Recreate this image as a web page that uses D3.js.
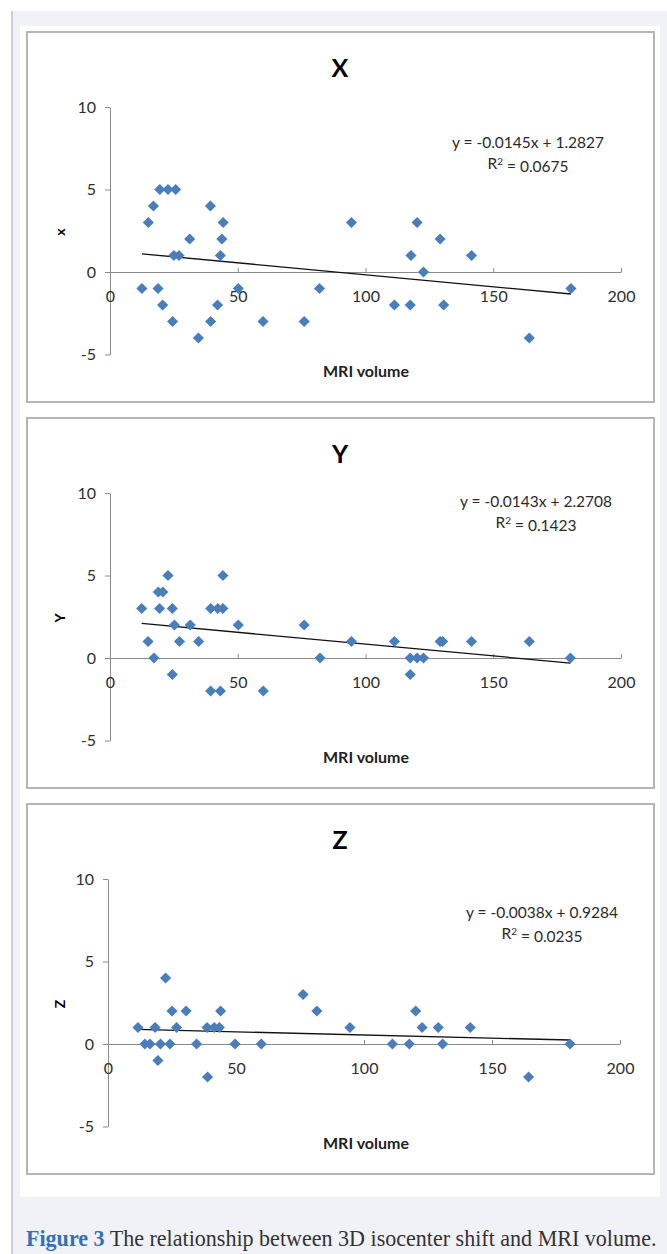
<!DOCTYPE html>
<html>
<head>
<meta charset="utf-8">
<script src="https://cdn.jsdelivr.net/npm/d3@7"></script>
<style>
  body { margin: 0; background: #fff; }
  svg { display: block; }
  text { font-family: Lato, "Open Sans", sans-serif; }
</style>
</head>
<body>
<svg id="figure" width="667" height="1254"></svg>
<script>
// Figure 3: isocenter shift (X, Y, Z) against MRI volume, one scatter per axis

var xVolume = [12.5, 15, 17, 18.8, 19.5, 20.6, 22.7, 24.5, 25.7, 25, 27, 31.2, 34.6, 39.3, 39.4, 42.1, 43.2,
               43.8, 44.3, 50.2, 59.9, 76, 82, 94.5, 111.3, 117.5, 117.8, 120.2, 122.7, 129.2, 130.6, 141.5, 164.1, 180.4];
var xShift  = [-1, 3, 4, -1, 5, -2, 5, -3, 5, 1, 1, 2, -4, 4, -3, -2, 1,
               2, 3, -1, -3, -3, -1, 3, -2, -2, 1, 3, 0, 2, -2, 1, -4, -1];

var yVolume = [12.4, 14.9, 17.2, 18.9, 19.4, 20.7, 22.7, 24.4, 24.4, 25.2, 27.2, 31.4, 34.7, 39.4, 39.4, 42.2, 43.2,
               44.2, 44.2, 50.2, 60, 76, 82.2, 94.5, 111.3, 117.5, 117.5, 120.2, 122.7, 129.2, 130.2, 141.5, 164.1, 180.2];
var yShift  = [3, 1, 0, 4, 3, 4, 5, 3, -1, 2, 1, 2, 1, 3, -2, 3, -2,
               3, 5, 2, -2, 2, 0, 1, 1, 0, -1, 0, 0, 1, 1, 1, 1, 0];

var zVolume = [11.7, 14.4, 16.4, 18.4, 19.5, 20.5, 22.5, 24.2, 25, 26.8, 30.5, 34.6, 38.7, 38.9, 41.5, 43.5,
               44, 49.6, 59.9, 76.2, 81.6, 94.5, 111.1, 117.7, 120.2, 122.7, 129, 130.7, 141.5, 164.3, 180.5];
var zShift  = [1, 0, 0, 1, -1, 0, 4, 0, 2, 1, 2, 0, 1, -2, 1, 1,
               2, 0, 0, 3, 2, 1, 0, 0, 2, 1, 1, 0, 1, -2, 0];

var panelTitles = ["X", "Y", "Z"];
var shiftTitles = ["x", "Y", "Z"];
var trendSlopes = [-0.0145, -0.0143, -0.0038];
var trendIntercepts = [1.2827, 2.2708, 0.9284];
var trendR2 = ["0.0675", "0.1423", "0.0235"];

var volumeTicks = [0, 50, 100, 150, 200];
var shiftTicks = [-5, 0, 5, 10];
var volumeTitle = "MRI volume";
var captionLabel = "Figure 3";
var captionText = " The relationship between 3D isocenter shift and MRI volume.";

var svg = d3.select("#figure");
var markerBlue = "#4a7ebb";
var axisGrey = "#8a8a8a";

// page frame: light grey column with a rule on the left, white figure area inside
svg.append("rect").attr("x", 12).attr("y", 11).attr("width", 655).attr("height", 1243).attr("fill", "#f0f2f7");
svg.append("line").attr("x1", 12).attr("x2", 12).attr("y1", 11).attr("y2", 1254)
   .attr("stroke", "#a4a4a4").attr("stroke-width", 1);
svg.append("rect").attr("x", 20).attr("y", 26).attr("width", 640).attr("height", 1171).attr("fill", "#fff");

var panels = [
  { volume: xVolume, shift: xShift, top: 32,  x0: 110, x1: 621, eqX: 528, eqY: 111 },
  { volume: yVolume, shift: yShift, top: 418, x0: 110, x1: 621, eqX: 536, eqY: 84 },
  { volume: zVolume, shift: zShift, top: 804, x0: 108, x1: 620, eqX: 542, eqY: 109 }
];

panels.forEach(function (p, i) {
  var g = svg.append("g");
  var top = p.top;

  g.append("rect")
    .attr("x", 27).attr("y", top).attr("width", 627).attr("height", 370)
    .attr("fill", "#fff").attr("stroke", "#b5b5b5").attr("stroke-width", 2);

  var x = d3.scaleLinear().domain([0, 200]).range([p.x0, p.x1]);
  var y = d3.scaleLinear().domain([-5, 10]).range([top + 322.5, top + 75]);

  // value axis on the left (plain hyphen for negatives, as in the original)
  var yAxis = g.append("g")
    .attr("transform", "translate(" + x(0) + ",0)")
    .call(d3.axisLeft(y).tickValues(shiftTicks).tickFormat(String)
      .tickSize(5).tickSizeOuter(0).tickPadding(9));

  // volume axis crosses at zero
  var xAxis = g.append("g")
    .attr("transform", "translate(0," + y(0) + ")")
    .call(d3.axisBottom(x).tickValues(volumeTicks).tickFormat(String)
      .tickSize(-4).tickSizeOuter(0).tickPadding(19));

  [yAxis, xAxis].forEach(function (a) {
    a.select(".domain").attr("stroke", axisGrey);
    a.selectAll(".tick line").attr("stroke", axisGrey);
    a.selectAll(".tick text")
      .attr("fill", "#2e2e2e")
      .style("font-size", "16px")
      .style("font-family", "Lato, 'Open Sans', sans-serif");
  });

  // linear trendline over the data range
  var ext = d3.extent(p.volume);
  var line = d3.line()
    .x(function (d) { return x(d); })
    .y(function (d) { return y(trendSlopes[i] * d + trendIntercepts[i]); });
  g.append("path")
    .attr("d", line(ext))
    .attr("fill", "none").attr("stroke", "#111").attr("stroke-width", 1.3);

  var diamond = d3.symbol().type(d3.symbolSquare).size(62);
  g.selectAll(".pt")
    .data(p.volume.map(function (v, k) { return [v, p.shift[k]]; }))
    .join("path")
    .attr("class", "pt")
    .attr("d", diamond)
    .attr("fill", markerBlue)
    .attr("transform", function (d) {
      return "translate(" + x(d[0]) + "," + y(d[1]) + ") rotate(45)";
    });

  g.append("text")
    .attr("x", 340).attr("y", top + 36).attr("dy", "0.35em")
    .attr("text-anchor", "middle")
    .style("font-size", "25px").style("font-weight", "bold")
    .text(panelTitles[i]);

  g.append("text")
    .attr("transform", "translate(60," + (top + 200) + ") rotate(-90)")
    .attr("dy", "0.35em").attr("text-anchor", "middle")
    .style("font-size", "14px").style("font-weight", "bold")
    .text(shiftTitles[i]);

  g.append("text")
    .attr("x", 366).attr("y", top + 339).attr("dy", "0.35em")
    .attr("text-anchor", "middle")
    .style("font-size", "16px").style("font-weight", "bold")
    .attr("fill", "#222")
    .text(volumeTitle);

  // regression label, Excel style
  var eq = "y = " + trendSlopes[i].toFixed(4) + "x + " + trendIntercepts[i].toFixed(4);
  g.append("text")
    .attr("x", p.eqX).attr("y", top + p.eqY).attr("dy", "0.35em")
    .attr("text-anchor", "middle")
    .style("font-size", "15.5px").attr("fill", "#2a2a2a")
    .text(eq);
  var r2 = g.append("text")
    .attr("x", p.eqX).attr("y", top + p.eqY + 21).attr("dy", "0.35em")
    .attr("text-anchor", "middle")
    .style("font-size", "15.5px").attr("fill", "#2a2a2a");
  r2.append("tspan").text("R");
  r2.append("tspan").attr("dy", "-0.45em").style("font-size", "10px").text("2");
  r2.append("tspan").attr("dy", "0.45em").text(" = " + trendR2[i]);
});

// caption, sized to span the figure width
var caption = svg.append("text")
  .attr("x", 26).attr("y", 1246)
  .style("font-family", "'Liberation Serif', 'DejaVu Serif', serif")
  .style("font-size", "20px");
caption.append("tspan").attr("fill", "#3470b8").style("font-weight", "bold").text(captionLabel);
caption.append("tspan").attr("fill", "#333").text(captionText);
var w = caption.node().getComputedTextLength();
caption.style("font-size", (20 * 631 / w) + "px");
</script>
</body>
</html>
